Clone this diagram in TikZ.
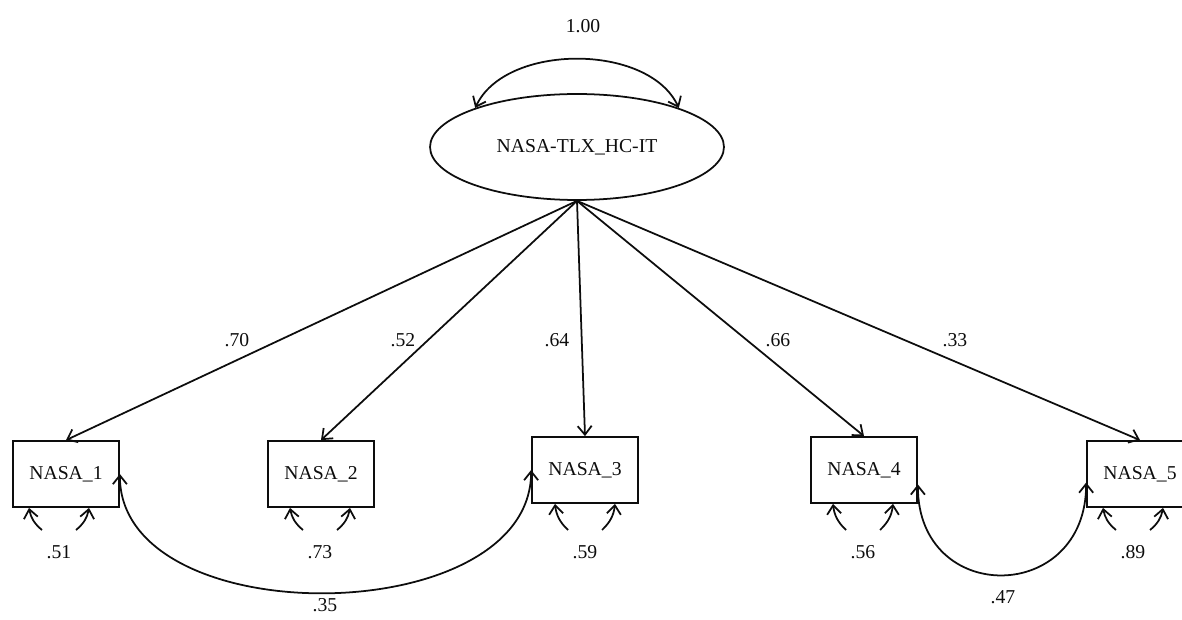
\documentclass[tikz,border=0pt]{standalone}
\usepackage{fontspec}
\setmainfont{Liberation Serif}
\usetikzlibrary{arrows.meta, calc, shapes.geometric, positioning}
\definecolor{mainBlack}{gray}{0.05}

\begin{document}
\begin{tikzpicture}[x=0.02cm, y=0.02cm, >={Straight Barb[length=5pt, width=8pt]},
    line width=1pt, mainBlack,
    every node/.style={font=\fontsize{11.2}{13}\selectfont},
    latEllipse/.style={draw, ellipse, minimum width=5.88cm, minimum height=2.12cm, inner sep=0pt},
    obsBox/.style={draw, rectangle, minimum width=2.12cm, minimum height=1.32cm, inner sep=0pt}]
    \clip (0,0) rectangle (1182,619);
    % latent factor
    \node[latEllipse] (lat) at (577,472) {NASA-TLX\_HC-IT};
    \draw[<->] (lat.159) .. controls +(30,65) and +(-30,65) .. (lat.21);
    \node (var) at (583,593) {1.00};
    % items
    \node[obsBox] (n1) at (66,145) {NASA\_1};
    \node[obsBox] (n2) at (321,145) {NASA\_2};
    \node[obsBox] (n3) at (585,149) {NASA\_3};
    \node[obsBox] (n4) at (864,149) {NASA\_4};
    \node[obsBox] (n5) at (1140,145) {NASA\_5};
    \foreach \i in {1,...,5}
        \draw[->] (lat.south) -- (n\i.north);
    % loadings
    \foreach \i/\x/\v in {1/237/.70, 2/403/.52, 3/557/.64, 4/778/.66, 5/955/.33}
        \node (ld\i) at (\x,279) {\v};
    % residuals
    \foreach \i/\x/\v in {1/59/.51, 2/320/.73, 3/585/.59, 4/863/.56, 5/1133/.89} {
        \node (e\i) at (\x,67) {\v};
        \coordinate (tl\i) at (\x-30,0);
        \coordinate (tr\i) at (\x+30,0);
        \draw[->] ($(e\i)+(-17,22)$) to[bend left=20] (tl\i |- n\i.south);
        \draw[->] ($(e\i)+(17,22)$) to[bend right=20] (tr\i |- n\i.south);
    }
    % correlated errors
    \draw[<->] (n1.east) to[out=-90, in=-90] (n3.west);
    \node (c13) at (325,14) {.35};
    \draw[<->] (n4.-15) to[out=-90, in=-90, looseness=1.85] (n5.189);
    \node (c45) at (1003,22) {.47};
\end{tikzpicture}
\end{document}
